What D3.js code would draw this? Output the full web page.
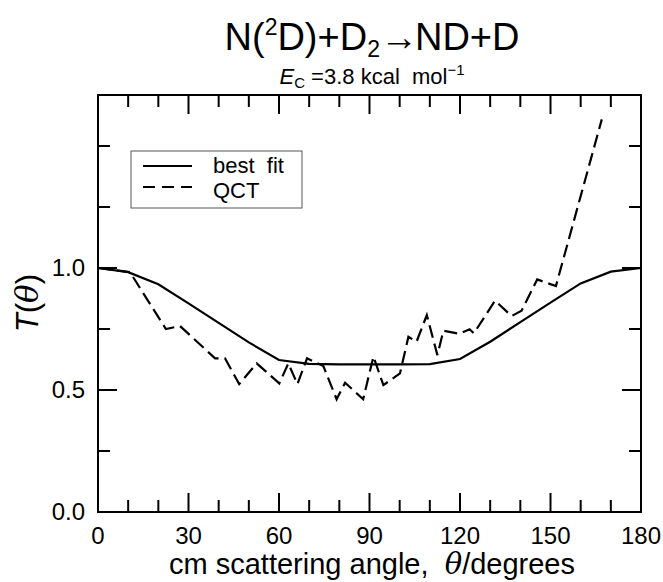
<!DOCTYPE html>
<html>
<head>
<meta charset="utf-8">
<script src="https://cdn.jsdelivr.net/npm/d3@7"></script>
<style>
  html, body { margin: 0; padding: 0; background: #fff; }
  svg { display: block; font-family: "Liberation Sans", Arial, sans-serif; }
  text { white-space: pre; }
</style>
</head>
<body>
<svg id="chart" width="663" height="582"></svg>
<script>
// ---- data ----
const fitAngle = [0, 10, 20, 30, 40, 50, 60, 70, 80, 90, 100, 110, 120, 130, 140, 150, 160, 170, 180];
const fitValue = [1.0, 0.983, 0.933, 0.855, 0.775, 0.695, 0.623, 0.607, 0.605, 0.605, 0.605, 0.606, 0.627, 0.698, 0.778, 0.858, 0.937, 0.985, 1.0];

const qctAngle = [0, 10.6, 22.5, 27.2, 38.8, 42.1, 46.8, 52.6, 60.1, 63.1, 66.1, 69.3, 74.7, 79.1, 81.9, 87.9, 91.3, 94.6, 100.1, 102.9, 105.6, 109.0, 112.5, 114.5, 119.8, 123.2, 124.6, 131.6, 137.1, 140.4, 145.6, 151.8, 167.0];
const qctValue = [1.0, 0.983, 0.75, 0.762, 0.63, 0.63, 0.524, 0.609, 0.527, 0.609, 0.524, 0.63, 0.598, 0.462, 0.53, 0.462, 0.637, 0.52, 0.568, 0.718, 0.698, 0.807, 0.643, 0.743, 0.73, 0.749, 0.732, 0.866, 0.803, 0.825, 0.953, 0.926, 1.609];

const xMajorTicks = [0, 30, 60, 90, 120, 150, 180];
const xMinorTicks = [10, 20, 40, 50, 70, 80, 100, 110, 130, 140, 160, 170];
const yMajorTicks = [0, 0.5, 1.0];
const yMinorTicks = [0.25, 0.75, 1.25, 1.5];
const yTickLabels = ["0.0", "0.5", "1.0"];
const legendLabels = ["best\u00a0\u00a0fit", "QCT"];

// ---- layout ----
const svg = d3.select("#chart");
const L = 98, R = 641, T = 95, B = 512;
const x = d3.scaleLinear().domain([0, 180]).range([L, R]);
const y = d3.scaleLinear().domain([0, 1.709]).range([B, T]);

const majorLen = 19, minorLen = 12;

// frame
svg.append("rect").attr("x", L).attr("y", T).attr("width", R - L).attr("height", B - T)
  .attr("fill", "none").attr("stroke", "#000").attr("stroke-width", 2);

// ticks
const tg = svg.append("g").attr("stroke", "#000").attr("stroke-width", 2);
function xTicks(vals, len) {
  vals.forEach(v => {
    tg.append("line").attr("x1", x(v)).attr("x2", x(v)).attr("y1", B).attr("y2", B - len);
    tg.append("line").attr("x1", x(v)).attr("x2", x(v)).attr("y1", T).attr("y2", T + len);
  });
}
function yTicks(vals, len) {
  vals.forEach(v => {
    tg.append("line").attr("y1", y(v)).attr("y2", y(v)).attr("x1", L).attr("x2", L + len);
    tg.append("line").attr("y1", y(v)).attr("y2", y(v)).attr("x1", R).attr("x2", R - len);
  });
}
xTicks(xMajorTicks, majorLen);
xTicks(xMinorTicks, minorLen);
yTicks(yMajorTicks, majorLen);
yTicks(yMinorTicks, minorLen);

// tick labels
svg.append("g").selectAll("text").data(xMajorTicks).join("text")
  .attr("x", d => x(d)).attr("y", 544).attr("text-anchor", "middle")
  .attr("font-size", 24).text(d => d);
svg.append("g").selectAll("text").data(yMajorTicks).join("text")
  .attr("x", 85).attr("y", d => y(d) + 8).attr("text-anchor", "end")
  .attr("font-size", 24).text((d, i) => yTickLabels[i]);

// axis titles
const xt = svg.append("text").attr("x", 372).attr("y", 574).attr("text-anchor", "middle").attr("font-size", 29);
xt.append("tspan").text("cm scattering angle,\u00a0\u00a0");
xt.append("tspan").attr("font-family", "'DejaVu Serif', serif").attr("font-style", "italic").text("θ");
xt.append("tspan").text("/degrees");

const yt = svg.append("text").attr("transform", "translate(38,303) rotate(-90)").attr("text-anchor", "middle").attr("font-size", 31);
yt.append("tspan").attr("font-style", "italic").text("T");
yt.append("tspan").text("(");
yt.append("tspan").attr("font-family", "'DejaVu Serif', serif").attr("font-style", "italic").text("θ");
yt.append("tspan").text(")");

// title
const tt = svg.append("text").attr("x", 372).attr("y", 50).attr("text-anchor", "middle").attr("font-size", 38);
tt.append("tspan").text("N(");
tt.append("tspan").attr("dy", -15).attr("font-size", 23).text("2");
tt.append("tspan").attr("dy", 15).text("D)+D");
tt.append("tspan").attr("dy", 7).attr("font-size", 23).text("2");
tt.append("tspan").attr("dy", -7).attr("letter-spacing", -3).text("→");
tt.append("tspan").text("ND+D");

const st = svg.append("text").attr("x", 372).attr("y", 84).attr("text-anchor", "middle").attr("font-size", 22);
st.append("tspan").attr("font-style", "italic").text("E");
st.append("tspan").attr("dy", 4).attr("font-size", 15).text("C");
st.append("tspan").attr("dy", -4).text("\u00a0=3.8 kcal\u00a0\u00a0mol");
st.append("tspan").attr("dy", -9).attr("font-size", 15).text("−1");

// lines
const line = d3.line().x(d => x(d[0])).y(d => y(d[1]));
const fitData = fitAngle.map((a, i) => [a, fitValue[i]]);
const qctData = qctAngle.map((a, i) => [a, qctValue[i]]);

svg.append("path").datum(fitData).attr("d", line).attr("fill", "none")
  .attr("stroke", "#000").attr("stroke-width", 2.2);
svg.append("path").datum(qctData).attr("d", line).attr("fill", "none")
  .attr("stroke", "#000").attr("stroke-width", 2.2).attr("stroke-dasharray", "13,6");

// legend
const lg = svg.append("g");
lg.append("rect").attr("x", 131).attr("y", 151).attr("width", 171).attr("height", 57)
  .attr("fill", "#fff").attr("stroke", "#555").attr("stroke-width", 1);
lg.append("line").attr("x1", 143).attr("x2", 192).attr("y1", 166).attr("y2", 166)
  .attr("stroke", "#000").attr("stroke-width", 2);
lg.append("line").attr("x1", 143).attr("x2", 192).attr("y1", 187).attr("y2", 187)
  .attr("stroke", "#000").attr("stroke-width", 2).attr("stroke-dasharray", "12,7");
lg.selectAll("text.lab").data(legendLabels).join("text").attr("class", "lab")
  .attr("x", 213).attr("y", (d, i) => 173 + i * 25).attr("font-size", 22).text(d => d);
</script>
</body>
</html>
